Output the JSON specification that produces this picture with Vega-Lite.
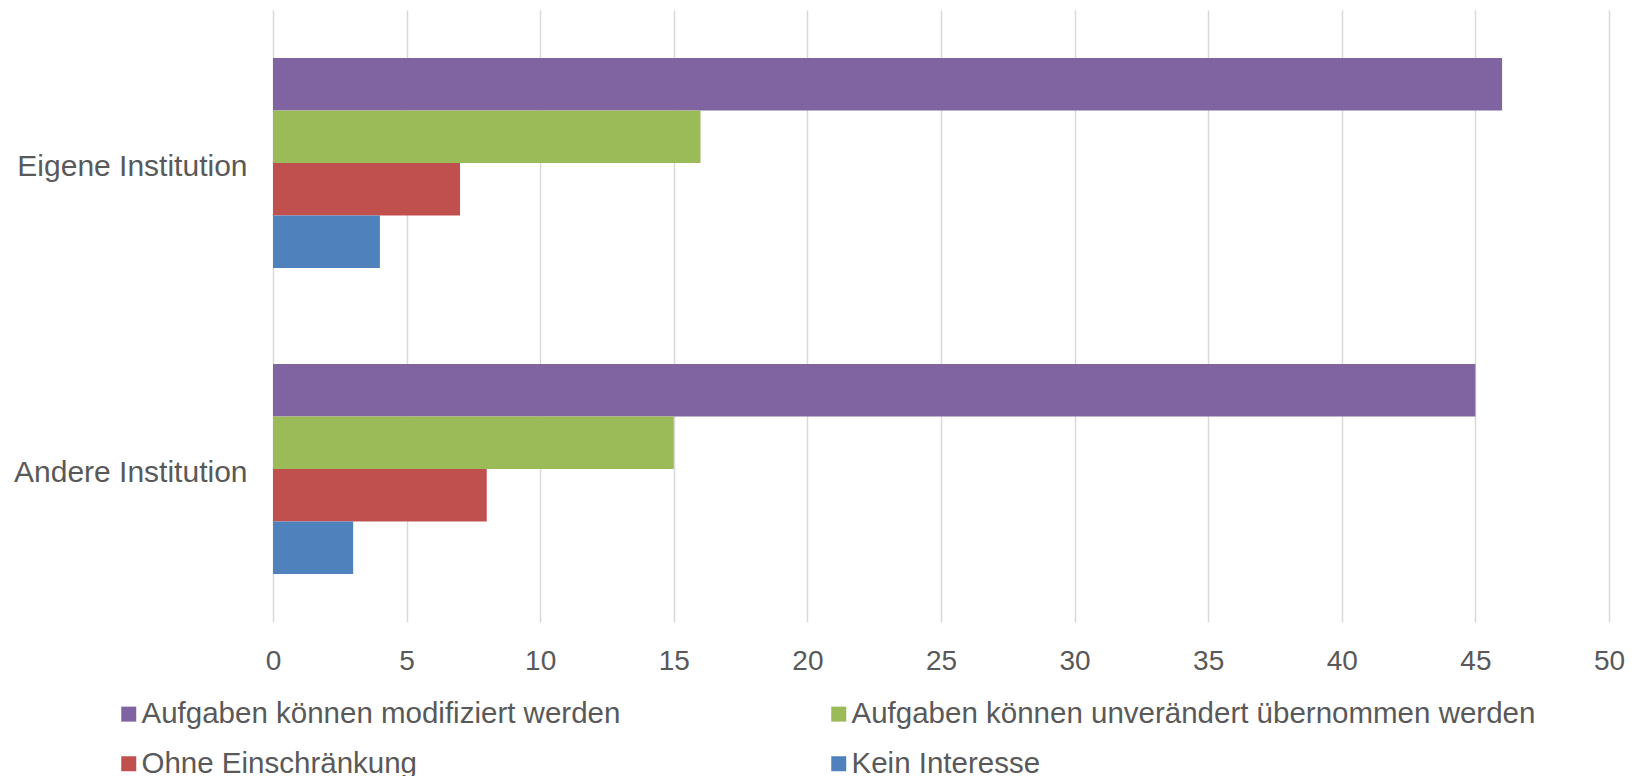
{
  "$schema": "https://vega.github.io/schema/vega-lite/v6.json",
  "width": 1336,
  "height": 612,
  "autosize": {"type": "none"},
  "padding": {"left": 273, "top": 10, "right": 28, "bottom": 154},
  "background": "white",
  "config": {"view": {"stroke": null}},
  "data": {
    "values": [
      {"institution": "Eigene Institution", "kategorie": "Aufgaben können modifiziert werden", "anzahl": 46},
      {"institution": "Eigene Institution", "kategorie": "Aufgaben können unverändert übernommen werden", "anzahl": 16},
      {"institution": "Eigene Institution", "kategorie": "Ohne Einschränkung", "anzahl": 7},
      {"institution": "Eigene Institution", "kategorie": "Kein Interesse", "anzahl": 4},
      {"institution": "Andere Institution", "kategorie": "Aufgaben können modifiziert werden", "anzahl": 45},
      {"institution": "Andere Institution", "kategorie": "Aufgaben können unverändert übernommen werden", "anzahl": 15},
      {"institution": "Andere Institution", "kategorie": "Ohne Einschränkung", "anzahl": 8},
      {"institution": "Andere Institution", "kategorie": "Kein Interesse", "anzahl": 3}
    ]
  },
  "mark": {"type": "bar"},
  "encoding": {
    "y": {
      "field": "institution",
      "type": "nominal",
      "sort": ["Eigene Institution", "Andere Institution"],
      "scale": {"paddingInner": 0.314, "paddingOuter": 0.157},
      "axis": {
        "title": null,
        "ticks": false,
        "tickSize": 0,
        "domain": false,
        "labelPadding": 26,
        "labelOffset": 4,
        "labelFont": "Liberation Sans",
        "labelFontSize": 30,
        "labelLimit": 0,
        "labelColor": "#595959"
      }
    },
    "yOffset": {
      "field": "kategorie",
      "type": "nominal",
      "sort": ["Aufgaben können modifiziert werden", "Aufgaben können unverändert übernommen werden", "Ohne Einschränkung", "Kein Interesse"],
      "scale": {"paddingInner": 0, "paddingOuter": 0}
    },
    "x": {
      "field": "anzahl",
      "type": "quantitative",
      "scale": {"domain": [0, 50], "nice": false},
      "axis": {
        "title": null,
        "values": [0, 5, 10, 15, 20, 25, 30, 35, 40, 45, 50],
        "grid": true,
        "gridColor": "#d9d9d9",
        "gridWidth": 1.5,
        "domain": false,
        "ticks": false,
        "tickSize": 0,
        "labelPadding": 25,
        "labelFont": "Liberation Sans",
        "labelFontSize": 28,
        "labelColor": "#595959",
        "labelFlush": false
      }
    },
    "color": {
      "field": "kategorie",
      "type": "nominal",
      "scale": {
        "domain": ["Aufgaben können modifiziert werden", "Aufgaben können unverändert übernommen werden", "Ohne Einschränkung", "Kein Interesse"],
        "range": ["#8064A2", "#9BBB59", "#C0504D", "#4F81BD"]
      },
      "legend": {
        "title": null,
        "orient": "none",
        "legendX": -159,
        "legendY": 689,
        "direction": "horizontal",
        "columns": 2,
        "columnPadding": 203,
        "rowPadding": 19,
        "padding": 0,
        "symbolType": "square",
        "symbolSize": 225,
        "symbolStrokeWidth": 0,
        "labelOffset": -2,
        "labelFont": "Liberation Sans",
        "labelFontSize": 29.5,
        "labelColor": "#595959",
        "labelLimit": 0
      }
    }
  }
}
